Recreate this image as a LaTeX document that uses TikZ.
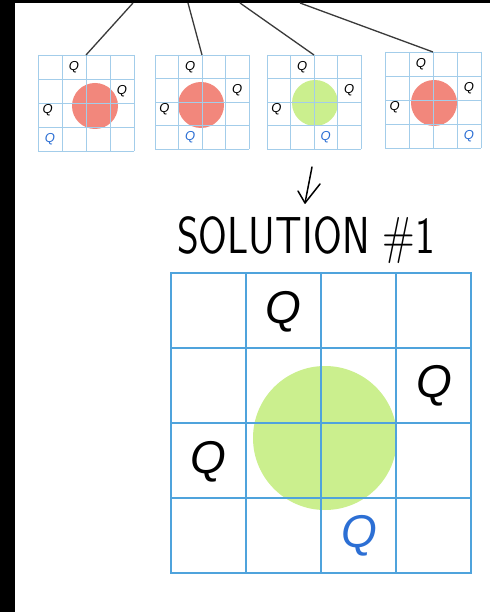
\documentclass[tikz,border=0pt]{standalone}
\usepackage{fontspec}
\newfontfamily\qfont{Liberation Sans}
\definecolor{gridblue}{HTML}{4FA3DC}
\definecolor{lightgrid}{HTML}{A3CDEA}
\definecolor{okgreen}{HTML}{CBEF8E}
\definecolor{badred}{HTML}{F2877C}
\definecolor{qblue}{HTML}{2C6FD4}
\definecolor{wire}{HTML}{3A3A3A}
\begin{document}
\begin{tikzpicture}[x=1pt,y=-1pt,
  smallline/.style={lightgrid,line width=0.9pt},
  bigline/.style={gridblue,line width=1.6pt},
  smallq/.style={inner sep=0pt,font=\fontsize{13}{13}\selectfont\qfont\itshape},
  bigq/.style={inner sep=0pt,font=\fontsize{46}{46}\selectfont\qfont\itshape},
  wirestyle/.style={wire,line width=1.3pt},
  handstroke/.style={black,line width=1.5pt,line cap=round,line join=round},
  titlestyle/.style={inner sep=0pt,font=\fontsize{52}{52}\selectfont\sffamily}]
\useasboundingbox (0,0) rectangle (490,612);
\fill[white] (0,0) rectangle (490,612);
\fill[black] (0,0) rectangle (15,612);
\fill[black] (0,0) rectangle (490,3);
% small grids
\foreach \gx/\gy/\c/\cx/\cy/\col/\b/\n in {
  38/55/24/95/106/badred/0/1,
  155/55/23.5/201/105/badred/1/2,
  267/55/23.5/315/103/okgreen/2/3,
  385/52/24/434/103/badred/3/4}{
  \fill[\col] (\cx,\cy) circle[radius=23];
  \foreach \i in {0,...,4}{
    \draw[smallline] (\gx+\i*\c,\gy) -- (\gx+\i*\c,\gy+4*\c);
    \draw[smallline] (\gx,\gy+\i*\c) -- (\gx+4*\c,\gy+\i*\c);
  }
  \node[smallq] (g\n qa) at (\gx+1.5*\c,\gy+0.5*\c) {Q};
  \node[smallq] (g\n qb) at (\gx+3.5*\c,\gy+1.5*\c) {Q};
  \node[smallq] (g\n qc) at (\gx+0.4*\c,\gy+2.3*\c) {Q};
  \node[smallq,qblue] (g\n qd) at (\gx+\b*\c+0.5*\c,\gy+3.5*\c) {Q};
  \coordinate (top\n) at (\gx+2*\c,\gy);
}
% connectors from above
\coordinate (src1) at (133,3);
\coordinate (src2) at (188,3);
\coordinate (src3) at (240,3);
\coordinate (src4) at (300,3);
\foreach \n in {1,2,3,4}{\draw[wirestyle] (src\n) -- (top\n);}
% arrow
\coordinate (arrtop) at (312,167);
\coordinate (arrtip) at (305,203);
\coordinate (arrl) at (298,191);
\coordinate (arrr) at (320,184);
\draw[handstroke] (arrtop) -- (arrtip);
\draw[handstroke] (arrl) -- (arrtip) -- (arrr);
% title
\node[titlestyle] (sol) at (306,240) {\scalebox{0.8}[1]{SOLUTION \#1}};
% big grid
\fill[okgreen] (325,438) circle[radius=72];
\foreach \i in {1,2,3}{
  \draw[bigline] (171+\i*75,273) -- (171+\i*75,573);
  \draw[bigline] (171,273+\i*75) -- (471,273+\i*75);
}
\draw[gridblue,line width=2.2pt] (171,273) rectangle (471,573);
\node[bigq] (bq1) at (283,312) {Q};
\node[bigq] (bq2) at (434,386) {Q};
\node[bigq] (bq3) at (208,462) {Q};
\node[bigq,qblue] (bq4) at (359,536) {Q};
\end{tikzpicture}
\end{document}
